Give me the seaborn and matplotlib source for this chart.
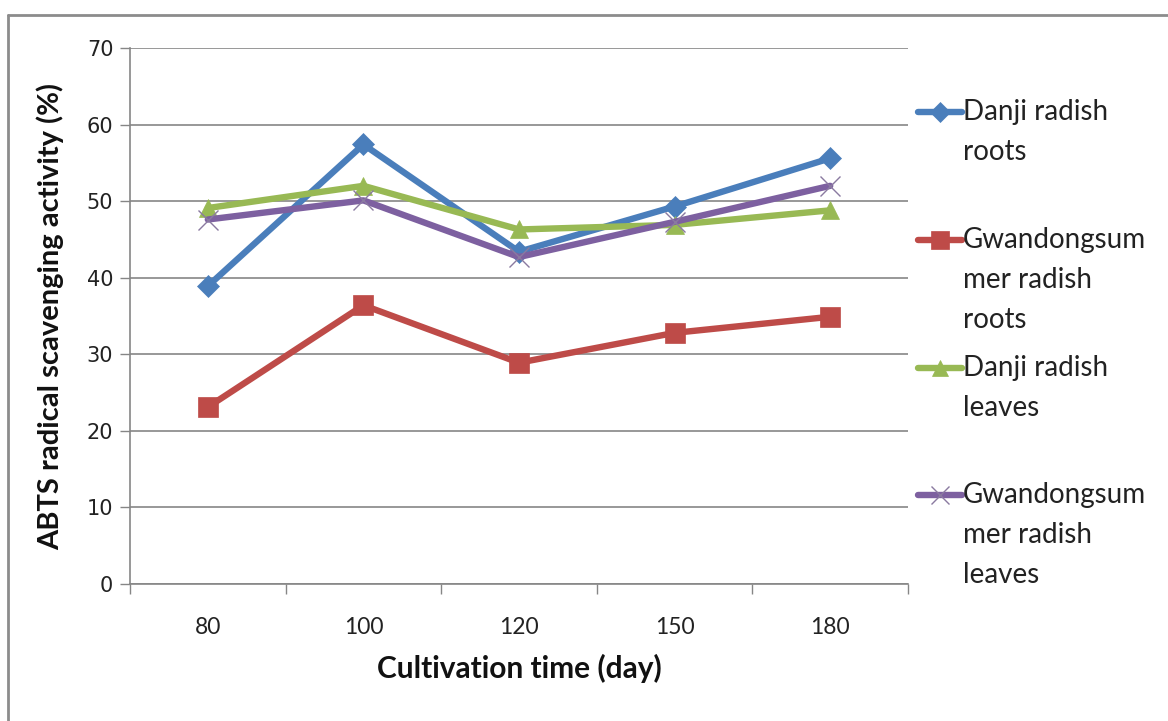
import matplotlib
matplotlib.use("Agg")
import matplotlib.pyplot as plt
from matplotlib.lines import Line2D
import seaborn as sns
import pandas as pd

# Cultivation days and ABTS radical scavenging activity (%)
days = ["80", "100", "120", "150", "180"]
danji_roots = [38.9, 57.4, 43.4, 49.3, 55.6]
gwandong_roots = [23.1, 36.4, 28.9, 32.8, 34.9]
danji_leaves = [49.1, 52.0, 46.3, 46.9, 48.8]
gwandong_leaves = [47.6, 50.1, 42.7, 47.3, 52.0]

series_names = [
    "Danji radish\nroots",
    "Gwandongsum\nmer radish\nroots",
    "Danji radish\nleaves",
    "Gwandongsum\nmer radish\nleaves",
]
series_values = [danji_roots, gwandong_roots, danji_leaves, gwandong_leaves]
colors = ["#4A7EBB", "#BE4B48", "#98B954", "#7D60A0"]
markers = ["D", "s", "^", "x"]
marker_sizes = [11, 14, 13, 15]
line_w = 4.6

sns.set_theme(style="white")
plt.rcParams["font.family"] = ["DejaVu Sans"]

fig = plt.figure(figsize=(11.68, 7.21), dpi=100)
ax = fig.add_axes([130 / 1168, 1 - 584 / 721, 778 / 1168, 536 / 721])

rows = []
for name, vals in zip(series_names, series_values):
    for d, v in zip(days, vals):
        rows.append({"day": d, "value": v, "series": name})
df = pd.DataFrame(rows)

for i, name in enumerate(series_names):
    sub = df[df["series"] == name]
    sns.lineplot(
        data=sub, x="day", y="value", ax=ax, color=colors[i],
        linewidth=line_w, marker=markers[i], markersize=marker_sizes[i],
        markeredgecolor=colors[i] if markers[i] != "x" else "#8a7aa0",
        markeredgewidth=1.0 if markers[i] == "x" else 0.5,
        sort=False, legend=False,
    )

ax.set_xlim(-0.5, len(days) - 0.5)
ax.set_ylim(0, 70)
ax.set_yticks(range(0, 71, 10))
ax.set_xticks(range(len(days)))
ax.set_xticklabels(days, family="Lato")

# Excel-style horizontal gridlines and axis lines
ax.yaxis.grid(True, color="#868686", linewidth=1.2)
ax.xaxis.grid(False)
ax.set_axisbelow(True)
for s in ["top", "right"]:
    ax.spines[s].set_visible(False)
for s in ["left", "bottom"]:
    ax.spines[s].set_color("#868686")
    ax.spines[s].set_linewidth(1.2)

# tick marks: y ticks outward on the left, x ticks between categories
ax.tick_params(axis="y", which="major", left=True, length=7, width=1.0,
               color="#868686", labelsize=15, labelcolor="#222222", pad=5)
ax.tick_params(axis="x", which="major", bottom=False, labelsize=16.5,
               labelcolor="#222222", pad=18)
ax.set_xticks([x + 0.5 for x in range(-1, len(days))], minor=True)
ax.tick_params(axis="x", which="minor", bottom=True, length=7, width=1.0,
               color="#868686")

ax.set_xlabel("Cultivation time (day)", fontsize=21.5, fontweight="bold",
              family="Lato", color="#111111", labelpad=11)
ax.set_ylabel("ABTS radical scavenging activity (%)", fontsize=21,
              fontweight="bold", family="Lato", color="#111111", labelpad=16)

# legend on the right, handle aligned with the first text line
legend_y = [112, 240, 368, 495]
for i, name in enumerate(series_names):
    y = 1 - legend_y[i] / 721
    h = Line2D([918 / 1168, 962 / 1168], [y, y], transform=fig.transFigure,
               color=colors[i], linewidth=line_w, marker=None)
    fig.add_artist(h)
    m = Line2D([940 / 1168], [y], transform=fig.transFigure, color=colors[i],
               marker=markers[i], markersize=marker_sizes[i] * 0.9,
               markeredgecolor=colors[i] if markers[i] != "x" else "#8a7aa0",
               markeredgewidth=1.0 if markers[i] == "x" else 0.5,
               linestyle="none")
    fig.add_artist(m)
    fig.text(963 / 1168, y + 0.0185, name, fontsize=20, color="#222222",
             family="Lato", va="top", ha="left", linespacing=1.68)

# outer chart frame (left and top edges visible)
frame_x = 8 / 1168
frame_y = 1 - 15 / 721
fig.add_artist(Line2D([frame_x, frame_x], [0, frame_y], transform=fig.transFigure,
                      color="#8c8c8c", linewidth=2))
fig.add_artist(Line2D([frame_x, 1], [frame_y, frame_y], transform=fig.transFigure,
                      color="#8c8c8c", linewidth=2))

fig.savefig("out.png", dpi=100, facecolor="white")
